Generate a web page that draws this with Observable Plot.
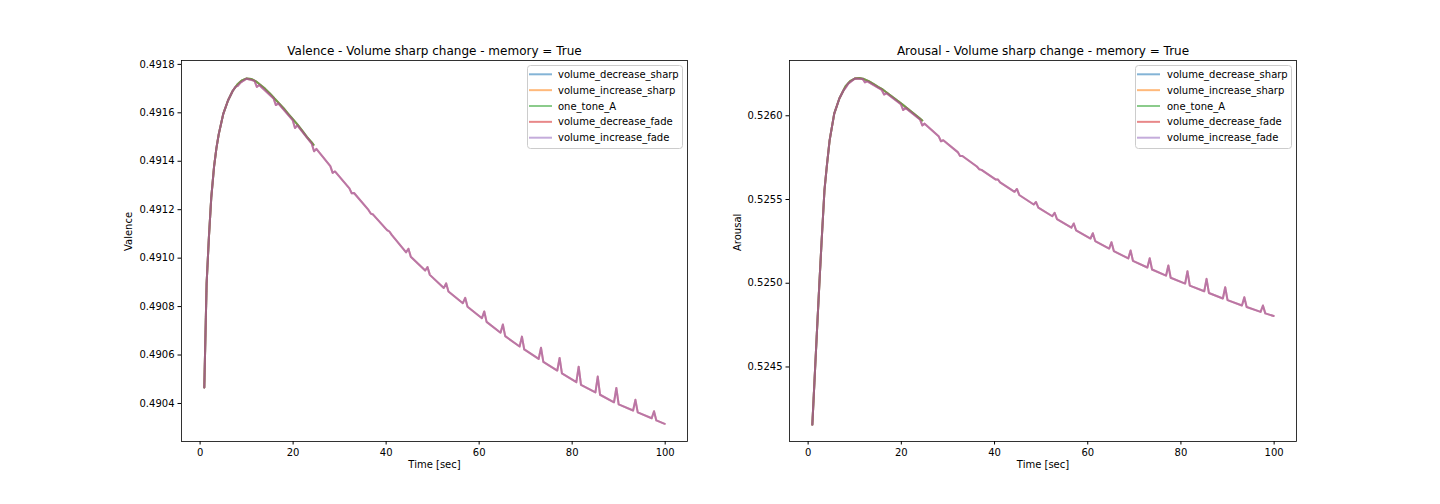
<!DOCTYPE html>
<html><head><meta charset="utf-8">
<script src="https://cdn.jsdelivr.net/npm/d3@7"></script>
<script src="https://cdn.jsdelivr.net/npm/@observablehq/plot@0.6"></script>
<style>
html,body{margin:0;padding:0;background:#fff;}
#root{position:relative;width:1440px;height:504px;overflow:hidden;font-family:"DejaVu Sans",sans-serif;}
.panel{position:absolute;top:0;}
.legend{position:absolute;overflow:visible;}
</style></head><body><div id="root"></div>
<script>
// ---------- data ----------
const seriesNames = ["volume_decrease_sharp","volume_increase_sharp","one_tone_A","volume_decrease_fade","volume_increase_fade"];
const seriesColors = ["#1f77b4","#ff7f0e","#2ca02c","#d62728","#9467bd"];
const xTicks = [0,20,40,60,80,100];
const valenceTicks = [0.4904,0.4906,0.4908,0.4910,0.4912,0.4914,0.4916,0.4918];
const arousalTicks = [0.5245,0.5250,0.5255,0.5260];

// Valence: the three "sharp"/tone series (end ~24.4 s)
const valenceToneTime = [0.9,1.4,1.9,2.4,3,3.5,4,5,6,7,8,9,10,11,12,13,14,15,16,17,18,19,20,21,22,23,24,24.4];
const valenceToneValue = [0.490466,0.490895,0.491089,0.491250,0.491378,0.491453,0.491511,0.491597,0.491651,0.491690,0.491717,0.491734,0.491742,0.491740,0.491730,0.491715,0.491699,0.491680,0.491659,0.491639,0.491618,0.491595,0.491573,0.491550,0.491525,0.491500,0.491478,0.491468];
// Valence: the two "fade" series (to ~100 s)
const valenceFadeTime = [0.9,1.4,1.9,2.4,3,3.5,4,5,6,7,7.6,8.1,8.6,10,11.7,12.2,12.7,15.8,16.3,16.8,19.9,20.4,20.9,24,24.5,25,28,28.5,29,32.1,32.6,33.1,36.2,36.7,37.2,40.2,40.7,41.2,44.3,44.8,45.3,48.4,48.9,49.4,52.4,52.9,53.4,56.5,57,57.5,60.6,61.1,61.6,64.6,65.1,65.6,68.7,69.2,69.7,72.8,73.3,73.8,76.8,77.3,77.8,80.9,81.4,81.9,85,85.5,86,89,89.5,90,93.1,93.6,94.1,97.1,97.6,98.1,99.9];
const valenceFadeValue = [0.490466,0.490895,0.491089,0.491250,0.491378,0.491453,0.491511,0.491597,0.491651,0.491690,
 0.491707,0.491711,0.491723,0.491741,
 0.491732,0.491707,0.491715,
 0.491659,0.491632,0.491639,
 0.491570,0.491537,0.491548,
 0.491473,0.491441,0.491451,
 0.491380,0.491352,0.491358,
 0.491288,0.491268,0.491269,
 0.491199,0.491184,0.491180,
 0.491116,0.491110,0.491096,
 0.491024,0.491039,0.491006,
 0.490949,0.490963,0.490931,
 0.490877,0.490896,0.490862,
 0.490814,0.490836,0.490799,
 0.490752,0.490780,0.490737,
 0.490692,0.490726,0.490678,
 0.490635,0.490676,0.490623,
 0.490584,0.490630,0.490572,
 0.490536,0.490588,0.490524,
 0.490488,0.490552,0.490477,
 0.490446,0.490511,0.490436,
 0.490405,0.490464,0.490396,
 0.490371,0.490415,0.490363,
 0.490339,0.490368,0.490330,
 0.490316];

// Arousal: tone series
const arousalToneTime = [0.9,1.4,1.9,2.4,2.9,3.5,4,4.6,5.6,6.7,8,9,10,11,12,13,14,15,16,17,18,19,20,21,22,23,24,24.5];
const arousalToneValue = [0.524156,0.524437,0.524718,0.524992,0.525255,0.525554,0.525697,0.525852,0.526013,0.526103,0.526175,0.526207,0.526222,0.526226,0.526219,0.526207,0.526191,0.526173,0.526157,0.526136,0.526115,0.526094,0.526073,0.526050,0.526028,0.526006,0.525983,0.525972];
// Arousal: fade series
const arousalFadeTime = [0.9,1.4,1.9,2.4,2.9,3.5,4,4.6,5.6,6.7,7.6,8.1,8.6,10,11.7,12.2,12.7,15.8,16.3,16.8,19.9,20.4,20.9,24,24.5,25,28,28.5,29,32.1,32.6,33.1,36.2,36.7,37.2,40.2,40.7,41.2,44.3,44.8,45.3,48.4,48.9,49.4,52.4,52.9,53.4,56.5,57,57.5,60.6,61.1,61.6,64.6,65.1,65.6,68.7,69.2,69.7,72.8,73.3,73.8,76.8,77.3,77.8,80.9,81.4,81.9,85,85.5,86,89,89.5,90,93.1,93.6,94.1,97.1,97.6,98.1,99.9];
const arousalFadeValue = [0.524156,0.524437,0.524718,0.524992,0.525255,0.525554,0.525697,0.525852,0.526013,0.526103,
 0.526152,0.526169,0.526192,0.526222,
 0.526220,0.526199,0.526205,
 0.526154,0.526127,0.526134,
 0.526069,0.526034,0.526047,
 0.525978,0.525942,0.525953,
 0.525878,0.525848,0.525854,
 0.525783,0.525760,0.525760,
 0.525697,0.525681,0.525677,
 0.525620,0.525620,0.525602,
 0.525546,0.525563,0.525527,
 0.525470,0.525485,0.525452,
 0.525400,0.525421,0.525383,
 0.525332,0.525357,0.525316,
 0.525267,0.525299,0.525252,
 0.525207,0.525245,0.525192,
 0.525148,0.525195,0.525134,
 0.525094,0.525149,0.525082,
 0.525045,0.525106,0.525033,
 0.524998,0.525072,0.524986,
 0.524952,0.525026,0.524942,
 0.524909,0.524976,0.524899,
 0.524867,0.524916,0.524858,
 0.524829,0.524867,0.524820,
 0.524804];

// ---------- drawing ----------
const FONT = "DejaVu Sans";
const ALPHA = 0.55;
const LW = 2;
const root = document.getElementById("root");

function rows(times, values) { return times.map((t, i) => ({t, v: values[i]})); }

function drawPanel(cfg) {
  const seriesData = [
    rows(cfg.toneT, cfg.toneV),
    rows(cfg.toneT, cfg.toneV),
    rows(cfg.toneT, cfg.toneV),
    rows(cfg.fadeT, cfg.fadeV),
    rows(cfg.fadeT, cfg.fadeV)
  ];
  const chart = Plot.plot({
    width: 720, height: 504,
    marginLeft: cfg.ml, marginRight: cfg.mr, marginTop: 60, marginBottom: 63,
    style: {fontFamily: FONT, fontSize: "10px", color: "black", background: "transparent", overflow: "visible"},
    x: {domain: [-4.0, 104.8]},
    y: {domain: cfg.yDomain},
    marks: [
      ...seriesData.map((d, i) => Plot.line(d, {x: "t", y: "v", stroke: seriesColors[i], strokeOpacity: ALPHA, strokeWidth: LW})),
      Plot.frame({stroke: "black", strokeWidth: 0.8}),
      Plot.axisX({ticks: xTicks, tickSize: 3.5, tickPadding: 3.5, label: null, fontSize: 10, tickFormat: d3.format("d")}),
      Plot.axisY({ticks: cfg.yTicks, tickSize: 3.5, tickPadding: 3.5, label: null, fontSize: 10, tickFormat: d3.format(".4f")}),
      Plot.text([cfg.title], {frameAnchor: "top", dy: -6, lineAnchor: "bottom", fontSize: 12}),
      Plot.text(["Time [sec]"], {frameAnchor: "bottom", dy: 26, fontSize: 10}),
      Plot.text([cfg.ylabel], {frameAnchor: "left", dx: -cfg.ylabelOffset, rotate: -90, fontSize: 10})
    ]
  });
  chart.classList.add("panel");
  chart.style.left = cfg.left + "px";
  root.appendChild(chart);

  // legend (upper right)
  const lg = d3.select(root).append("svg").attr("class", "legend")
    .attr("width", cfg.legend.w + 2).attr("height", 86)
    .style("left", (cfg.legend.x - 1) + "px").style("top", "64px");
  lg.append("rect").attr("x", 1.5).attr("y", 1.5).attr("width", cfg.legend.w - 1).attr("height", 83)
    .attr("rx", 3).attr("fill", "white").attr("fill-opacity", 0.8).attr("stroke", "#cccccc").attr("stroke-width", 1);
  seriesNames.forEach((name, i) => {
    const cy = 10.3 + i * 15.85;
    lg.append("line").attr("x1", 3).attr("x2", 26).attr("y1", cy).attr("y2", cy)
      .attr("stroke", seriesColors[i]).attr("stroke-opacity", ALPHA).attr("stroke-width", LW);
    lg.append("text").attr("x", cfg.legend.tx).attr("y", cy).attr("dy", "0.35em")
      .attr("font-family", FONT).attr("font-size", 10).attr("fill", "black").text(name);
  });
}

drawPanel({
  left: 0, ml: 181, mr: 33,
  yDomain: [0.490243, 0.491816], yTicks: valenceTicks,
  toneT: valenceToneTime, toneV: valenceToneValue, fadeT: valenceFadeTime, fadeV: valenceFadeValue,
  title: "Valence - Volume sharp change - memory = True", ylabel: "Valence", ylabelOffset: 53,
  legend: {x: 526.5, w: 156, tx: 32}
});
drawPanel({
  left: 720, ml: 69, mr: 144,
  yDomain: [0.524055, 0.526330], yTicks: arousalTicks,
  toneT: arousalToneTime, toneV: arousalToneValue, fadeT: arousalFadeTime, fadeV: arousalFadeValue,
  title: "Arousal - Volume sharp change - memory = True", ylabel: "Arousal", ylabelOffset: 52,
  legend: {x: 1134.5, w: 157, tx: 33}
});
</script></body></html>
